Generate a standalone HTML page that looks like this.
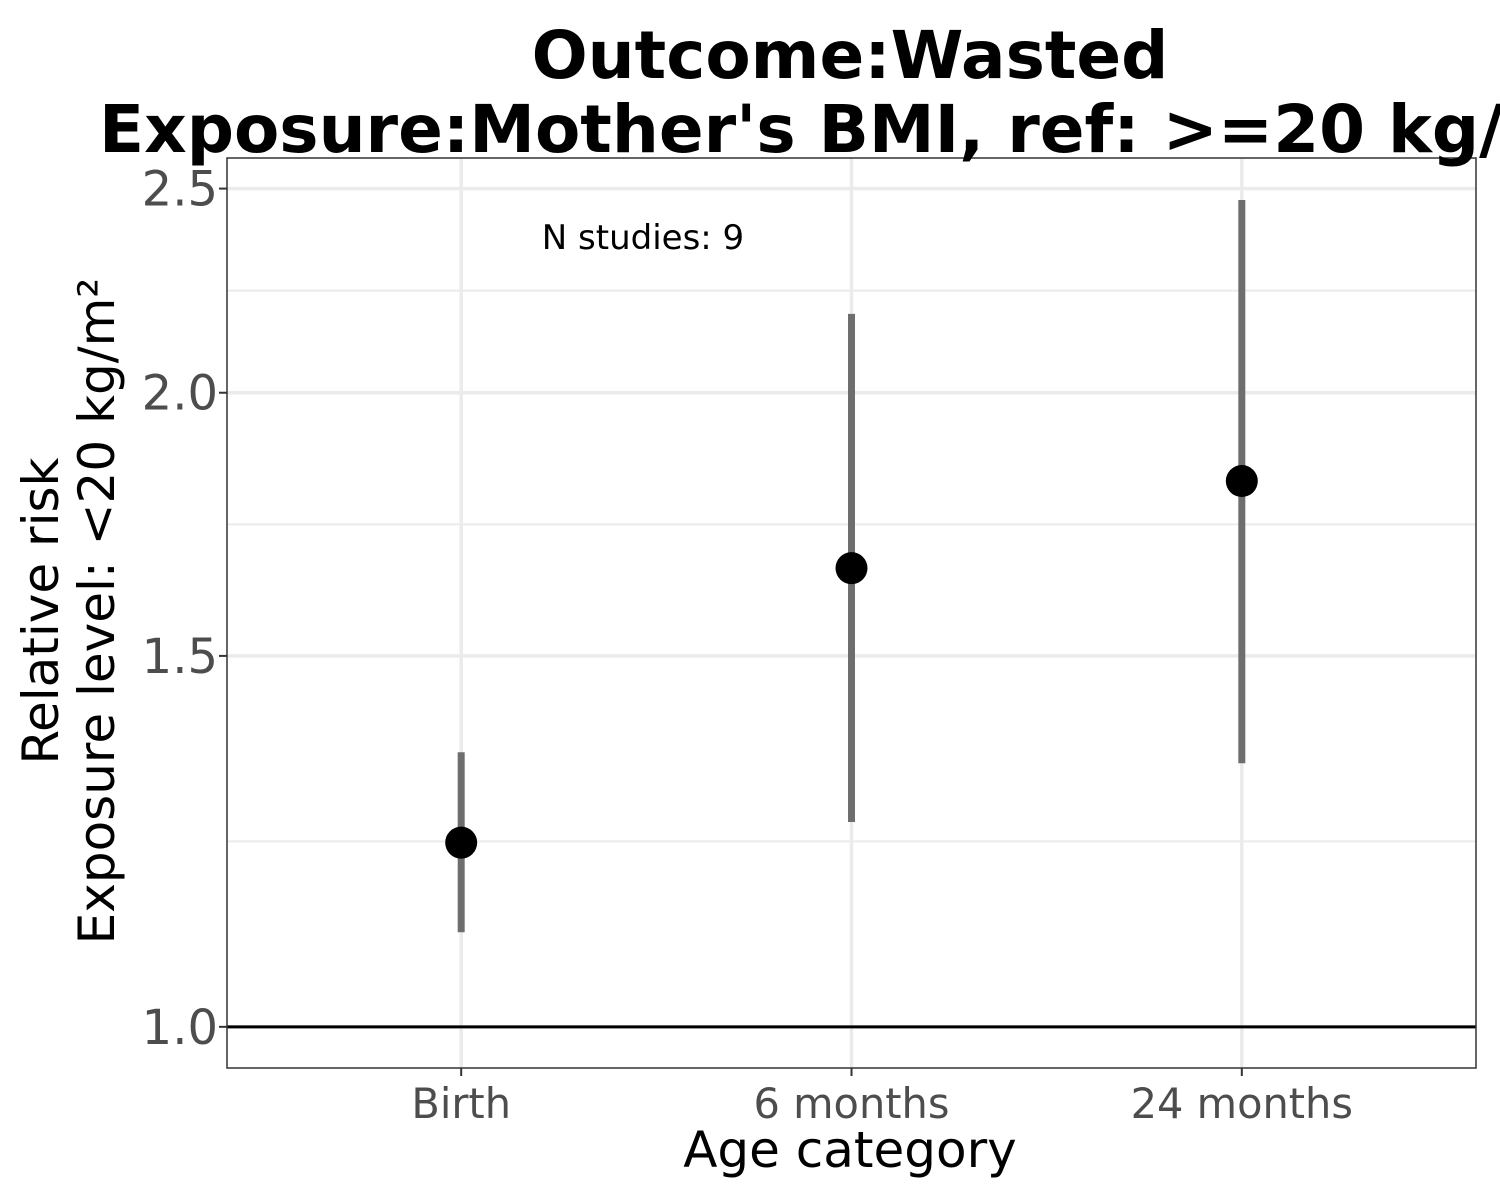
<!DOCTYPE html>
<html><head><meta charset="utf-8"><style>
html,body{margin:0;padding:0;background:#fff;overflow:hidden}
svg{display:block;font-family:"DejaVu Sans","Liberation Sans",sans-serif}
</style></head><body>
<svg id="chart" width="1500" height="1200" viewBox="0 0 1500 1200">
<rect width="1500" height="1200" fill="#fff"/>
<g id="grid"></g>
<g id="marks"></g>
<rect x="227" y="158" width="1249" height="910" fill="none" stroke="#333" stroke-width="1.5"/>
<g id="axes"></g>
<text x="850" y="78" text-anchor="middle" font-size="66" font-weight="bold">Outcome:Wasted</text>
<text x="850" y="152" text-anchor="middle" font-size="66" font-weight="bold">Exposure:Mother's BMI, ref: &gt;=20 kg/m²</text>
<text x="643" y="249" text-anchor="middle" font-size="34">N studies: 9</text>
<text x="850" y="1167" text-anchor="middle" font-size="50">Age category</text>
<text transform="translate(58,611) rotate(-90)" text-anchor="middle" font-size="50">Relative risk</text>
<text transform="translate(114,611) rotate(-90)" text-anchor="middle" font-size="50">Exposure level: &lt;20 kg/m²</text>
</svg>
<script>
const categories = ["Birth", "6 months", "24 months"];
const estimates = [1.223, 1.651, 1.816];
const ciLower = [1.109, 1.251, 1.334];
const ciUpper = [1.35, 2.18, 2.469];
const yTicks = [1.0, 1.5, 2.0, 2.5];
const yTickLabels = ["1.0", "1.5", "2.0", "2.5"];

const NS = "http://www.w3.org/2000/svg";
const px0 = 227, px1 = 1476, py0 = 158, py1 = 1068;
const yMin = Math.log(0.956), yMax = Math.log(2.585);
function y(v){ return py1 - (Math.log(v) - yMin) / (yMax - yMin) * (py1 - py0); }
function x(i){ return px0 + (px1 - px0) * (i + 0.6) / (categories.length + 0.2); }
function mk(tag, attrs, parent){ const e = document.createElementNS(NS, tag); for (const k in attrs) e.setAttribute(k, attrs[k]); parent.appendChild(e); return e; }
const grid = document.getElementById("grid"), marks = document.getElementById("marks"), axes = document.getElementById("axes");

for (let i = 0; i < yTicks.length - 1; i++) {
  const m = Math.sqrt(yTicks[i] * yTicks[i + 1]);
  const l = mk("line", {x1: px0, x2: px1, y1: y(m), y2: y(m), stroke: "#ebebeb", "stroke-width": 2}, grid);
  
  
}
yTicks.forEach((t, i) => {
  const l = mk("line", {x1: px0, x2: px1, y1: y(t), y2: y(t), stroke: "#ebebeb", "stroke-width": 3.5}, grid);
  
  
  const tk = mk("line", {x1: px0 - 8, x2: px0, y1: y(t), y2: y(t), stroke: "#333", "stroke-width": 2}, axes);
  
  
  const tx = mk("text", {x: px0 - 9, y: y(t) + 17, "text-anchor": "end", "font-size": 48, fill: "#4d4d4d"}, axes);
  tx.textContent = yTickLabels[i];
  
  
});
categories.forEach((c, i) => {
  const l = mk("line", {x1: x(i), x2: x(i), y1: py0, y2: py1, stroke: "#ebebeb", "stroke-width": 3.5}, grid);
  
  
  const tk = mk("line", {x1: x(i), x2: x(i), y1: py1, y2: py1 + 8, stroke: "#333", "stroke-width": 2}, axes);
  
  
  const tx = mk("text", {x: x(i), y: 1118, "text-anchor": "middle", "font-size": 41.5, fill: "#4d4d4d"}, axes);
  tx.textContent = c;
  
  
});
const ref = mk("line", {x1: px0, x2: px1, y1: y(1), y2: y(1), stroke: "#000", "stroke-width": 3}, marks);


categories.forEach((c, i) => {
  const e = mk("line", {x1: x(i), x2: x(i), y1: y(ciLower[i]), y2: y(ciUpper[i]), stroke: "#6e6e6e", "stroke-width": 7}, marks);
  
  
  const p = mk("circle", {cx: x(i), cy: y(estimates[i]), r: 16, fill: "#000"}, marks);
  
  
});
</script>
</body></html>
